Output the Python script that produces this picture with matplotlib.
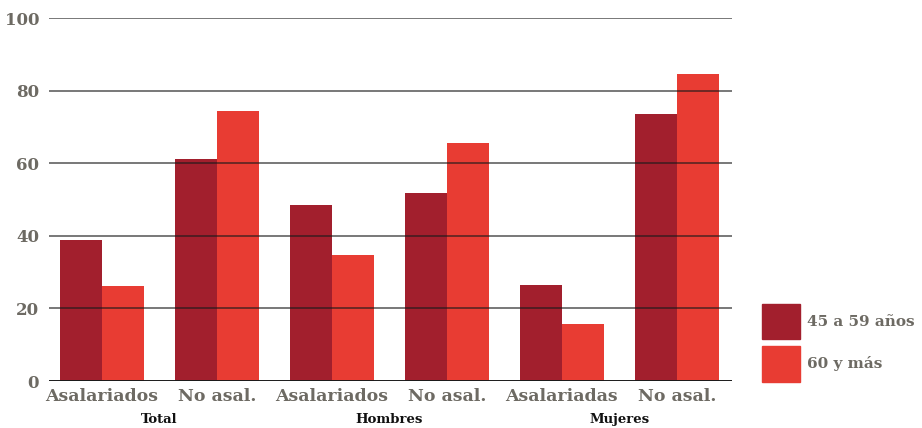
import matplotlib
matplotlib.use('Agg')
import matplotlib.pyplot as plt
from matplotlib.patches import Patch
import numpy as np

categories = ['Asalariados', 'No asal.', 'Asalariados', 'No asal.', 'Asalariadas', 'No asal.']
groups = ['Total', 'Hombres', 'Mujeres']
series_names = ['45 a 59 años', '60 y más']
vals_45_59 = [38.9, 61.3, 48.6, 51.7, 26.5, 73.7]
vals_60 = [26.3, 74.3, 34.8, 65.7, 15.8, 84.6]

dark = '#A21F2D'
light = '#E83C33'
gray = '#6D6A63'

plt.rcParams['font.family'] = ['DejaVu Serif']
plt.rcParams['font.weight'] = 'bold'

fig = plt.figure(figsize=(9.22, 4.28), dpi=100)
ax = fig.add_axes([0.0531, 0.1098, 0.741, 0.848])

x = np.arange(len(categories))
w = 0.365
ax.bar(x - w / 2, vals_45_59, w, color=dark, zorder=2)
ax.bar(x + w / 2, vals_60, w, color=light, zorder=2)

for y in [20, 40, 60, 80, 100]:
    ax.axhline(y, color='#1a1a1a', lw=1.1, alpha=0.75, zorder=3)
ax.axhline(0, color='#1a1a1a', lw=1.4, zorder=3)

ax.set_xlim(-0.46, 5.48)
ax.set_ylim(0, 100)
ax.set_yticks([0, 20, 40, 60, 80, 100])
ax.set_xticks(x)
ax.set_xticklabels(categories, fontsize=12.5, color=gray, fontweight='bold')
ax.tick_params(axis='y', labelsize=12, labelcolor=gray, length=0, pad=7)
ax.tick_params(axis='x', length=0, pad=5)
for s in ax.spines.values():
    s.set_visible(False)

for i, g in enumerate(groups):
    ax.text(2 * i + 0.5, -0.088, g, transform=ax.get_xaxis_transform(), ha='center', va='top',
            fontsize=9.5, fontweight='bold', color='#111111')

handles = [Patch(color=dark), Patch(color=light)]
fig.legend(handles, series_names, loc='lower left', bbox_to_anchor=(0.826, 0.108),
           frameon=False, fontsize=11, handlelength=2.5, handleheight=3.2,
           handletextpad=0.5, labelspacing=0.45, labelcolor=gray, borderaxespad=0,
           borderpad=0)

fig.savefig('out.png', dpi=100)
